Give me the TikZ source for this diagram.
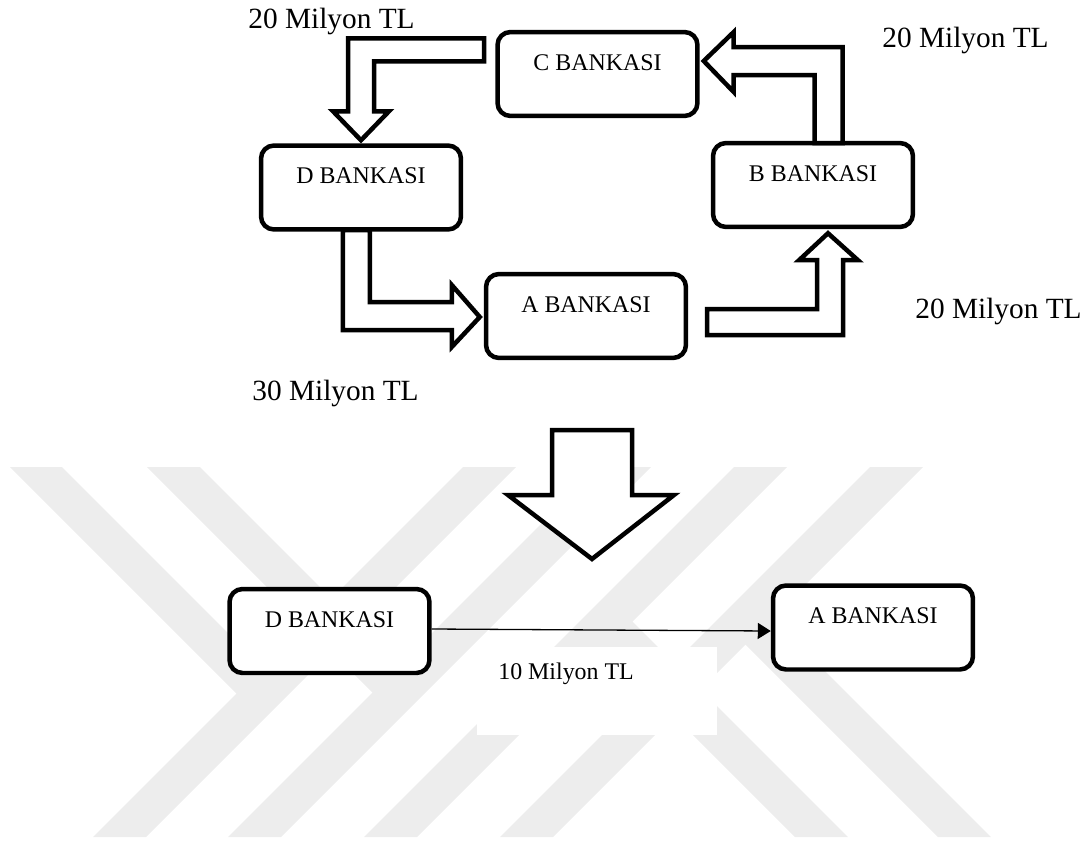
\documentclass[tikz,border=0pt]{standalone}
\usepackage{fontspec}
\setmainfont{Liberation Serif}
\usetikzlibrary{arrows.meta,calc}
\definecolor{wmgray}{RGB}{237,237,237}

\begin{document}
\begin{tikzpicture}[x=0.02cm,y=-0.02cm,
    bank/.style={draw,line width=0.09cm,rounded corners=0.26cm,fill=white,
      minimum width=4cm,inner sep=0pt,text height=0.76cm,text depth=0.92cm,
      font=\fontsize{13.6}{16}\selectfont},
    amount/.style={inner sep=0pt,anchor=base west,font=\fontsize{16.7}{20}\selectfont},
    blockarrow/.style={draw,line width=0.09cm,fill=white}]
      \useasboundingbox (0,0) rectangle (1089,842);
      % Watermark stripes
      \foreach \b in {93,228,364,500}{
        \fill[wmgray] (\b,837) -- ++(53,0) -- ++(370,-370) -- ++(-53,0) -- cycle;
      }
      \fill[wmgray] (10,467) -- (62,467) -- (275.75,680.75) -- (249.75,706.75) -- cycle;
      \fill[wmgray] (147,467) -- (200,467) -- (412.25,679.25) -- (385.75,705.75) -- cycle;
      \fill[wmgray] (938,837) -- (991,837) -- (758.75,604.75) -- (732.25,631.25) -- cycle;
      \fill[wmgray] (795,837) -- (848,837) -- (619.25,608.25) -- (592.75,634.75) -- cycle;
      \fill[white] (477,647) rectangle (717,735);
      % Banks in the cycle
      \node[bank] (C) at (597.5,74) {C BANKASI};
      \node[bank] (D) at (361,187.5) {D BANKASI};
      \node[bank] (B) at (813,185) {B BANKASI};
      \node[bank] (A) at (586,316) {A BANKASI};
      % Block arrows between them
      \draw[blockarrow] ($(D.north)+(0,-3)$) -- ++(28,-29) -- ++(-15,0) -- ++(0,-50)
        -- ++(110,0) -- ++(0,-23) -- ++(-136,0) -- ++(0,73) -- ++(-15,0) -- cycle;
      \draw[blockarrow] ($(A.west)+(-4,1)$) -- ++(-28,-32) -- ++(0,17) -- ++(-82,0)
        -- ++(0,-72) -- ++(-27,0) -- ++(0,100) -- ++(109,0) -- ++(0,17) -- cycle;
      \draw[blockarrow] ($(B.south)+(15,4)$) -- ++(30,27) -- ++(-15,0) -- ++(0,75)
        -- ++(-136,0) -- ++(0,-26) -- ++(110,0) -- ++(0,-49) -- ++(-18,0) -- cycle;
      \draw[blockarrow] ($(C.east)+(4,-13)$) -- ++(30,-29) -- ++(0,15) -- ++(109,0)
        -- ++(0,96) -- ++(-28,0) -- ++(0,-68) -- ++(-81,0) -- ++(0,17) -- cycle;
      % Amounts
      \node[amount] (cd) at (248,28) {20 Milyon TL};
      \node[amount] (bc) at (882,47) {20 Milyon TL};
      \node[amount] (ab) at (915,318) {20 Milyon TL};
      \node[amount] (da) at (252,400) {30 Milyon TL};
      % Netting arrow
      \draw[blockarrow] (552,430) -- (632,430) -- (632,495) -- (674,495) -- (592,559)
        -- (508,495) -- (552,495) -- cycle;
      % Net result
      \node[bank] (D2) at (329.5,631) {D BANKASI};
      \node[bank] (A2) at (873,627.5) {A BANKASI};
      \draw[line width=0.026cm,-{Triangle[length=0.26cm,width=0.32cm]}]
        ($(D2.east)+(0,-2)$) -- ($(A2.west)+(0,3.5)$);
      \node[inner sep=0pt,anchor=base west,font=\fontsize{13.6}{16}\selectfont] (net)
        at (498,679) {10 Milyon TL};
\end{tikzpicture}
\end{document}
